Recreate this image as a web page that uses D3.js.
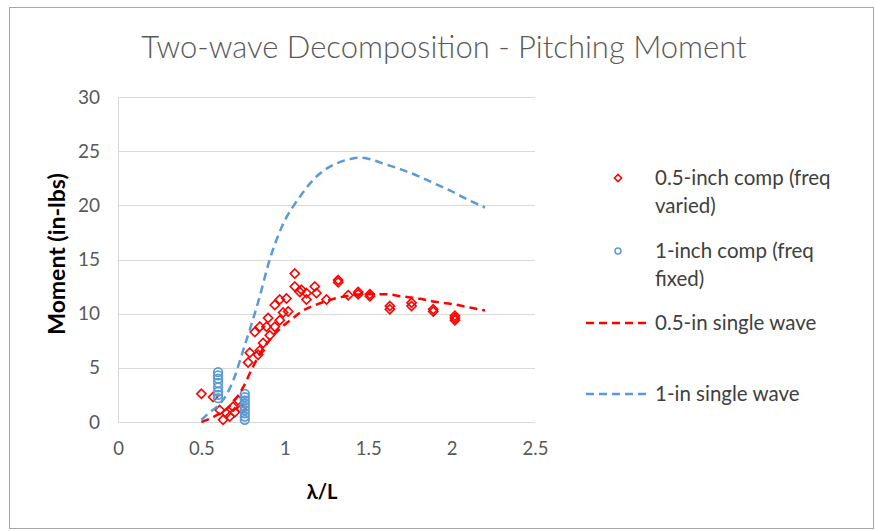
<!DOCTYPE html>
<html>
<head>
<meta charset="utf-8">
<script src="https://cdn.jsdelivr.net/npm/d3@7"></script>
<style>
  html, body { margin: 0; padding: 0; background: #fff; }
  svg { display: block; font-family: Lato, "Open Sans", sans-serif; }
</style>
</head>
<body>
<svg id="chart" width="875" height="531"></svg>
<script>
// ---------- data ----------
const titleText = "Two-wave Decomposition - Pitching Moment";
const xTicks = [0, 0.5, 1, 1.5, 2, 2.5];
const xTickLabels = ["0", "0.5", "1", "1.5", "2", "2.5"];
const yTicks = [0, 5, 10, 15, 20, 25, 30];

// 0.5-inch comp (freq varied) – red diamonds
const halfCompX = [0.50, 0.57, 0.61, 0.63, 0.65, 0.67, 0.69, 0.70, 0.72, 0.74,
  0.78, 0.79, 0.82, 0.84, 0.85, 0.85, 0.87, 0.89, 0.90, 0.91, 0.94, 0.94, 0.97, 0.97,
  0.99, 1.01, 1.02, 1.06, 1.06, 1.09, 1.10, 1.13, 1.13, 1.18, 1.19, 1.25, 1.32, 1.32,
  1.38, 1.44, 1.44, 1.51, 1.51, 1.63, 1.63, 1.76, 1.76, 1.89, 1.89, 2.02, 2.02, 2.02];
const halfCompY = [2.6, 2.3, 1.1, 0.2, 0.8, 0.5, 1.4, 0.9, 2.0, 1.2,
  5.5, 6.4, 8.3, 6.2, 6.6, 8.8, 7.3, 8.8, 9.6, 8.0, 8.8, 10.8, 9.4, 11.3,
  10.1, 11.4, 10.2, 13.7, 12.5, 12.0, 12.2, 11.9, 11.3, 12.5, 11.9, 11.3, 12.9, 13.1,
  11.7, 12.0, 11.8, 11.6, 11.8, 10.4, 10.7, 10.7, 11.0, 10.2, 10.4, 9.6, 9.4, 9.8];

// 1-inch comp (freq fixed) – blue circles
const oneCompX = [0.60, 0.60, 0.60, 0.60, 0.60, 0.60, 0.60, 0.60,
  0.76, 0.76, 0.76, 0.76, 0.76, 0.76, 0.76, 0.76, 0.76];
const oneCompY = [4.6, 4.3, 4.0, 3.6, 3.2, 2.8, 2.5, 2.2,
  2.6, 2.3, 2.0, 1.7, 1.4, 1.1, 0.8, 0.5, 0.2];

// 0.5-in single wave – red dashed
const halfWaveX = [0.50, 0.55, 0.60, 0.65, 0.70, 0.75, 0.80, 0.85, 0.90, 0.95, 1.00, 1.05,
  1.10, 1.20, 1.30, 1.40, 1.50, 1.60, 1.70, 1.80, 1.90, 2.00, 2.10, 2.20];
const halfWaveY = [0.0, 0.3, 0.7, 1.2, 2.0, 3.2, 4.8, 6.3, 7.4, 8.3, 9.0, 9.6,
  10.2, 10.9, 11.4, 11.7, 11.8, 11.8, 11.6, 11.4, 11.1, 10.9, 10.6, 10.3];

// 1-in single wave – blue dashed
const oneWaveX = [0.50, 0.55, 0.60, 0.65, 0.70, 0.75, 0.80, 0.85, 0.90, 0.95, 1.00, 1.05,
  1.10, 1.15, 1.20, 1.30, 1.40, 1.45, 1.50, 1.60, 1.70, 1.80, 1.90, 2.00, 2.10, 2.20];
const oneWaveY = [0.2, 0.9, 1.5, 2.5, 4.2, 6.6, 9.0, 11.6, 14.5, 16.8, 18.6, 19.9,
  21.0, 22.0, 22.8, 23.8, 24.3, 24.4, 24.3, 23.8, 23.3, 22.7, 22.0, 21.3, 20.5, 19.8];

const legendLabels = [["0.5-inch comp (freq", "varied)"], ["1-inch comp (freq", "fixed)"],
  ["0.5-in single wave"], ["1-in single wave"]];

// ---------- drawing ----------
const RED = "#ff0000", BLUE = "#5b9bd5";
const svg = d3.select("#chart");

// outer frame
svg.append("rect").attr("x", 9.5).attr("y", 7.5).attr("width", 864).attr("height", 521)
  .attr("fill", "#fff").attr("stroke", "#a6a6a6").attr("stroke-width", 1);

const x = d3.scaleLinear().domain([0, 2.5]).range([118, 535]);
const y = d3.scaleLinear().domain([0, 30]).range([422, 97]);

// gridlines
svg.append("g").selectAll("line").data(yTicks).join("line")
  .attr("x1", x(0)).attr("x2", x(2.5))
  .attr("y1", d => Math.round(y(d)) + 0.5).attr("y2", d => Math.round(y(d)) + 0.5)
  .attr("stroke", "#d9d9d9").attr("stroke-width", 1);
// left vertical axis line
svg.append("line").attr("x1", x(0) + 0.5).attr("x2", x(0) + 0.5)
  .attr("y1", y(30)).attr("y2", y(0)).attr("stroke", "#d9d9d9");

// axes (labels only)
const yAxis = d3.axisLeft(y).tickValues(yTicks).tickSize(0).tickPadding(18);
const gy = svg.append("g").attr("transform", `translate(${x(0)},0)`).call(yAxis);
gy.select(".domain").remove();
gy.selectAll("text").attr("fill", "#595959").style("font-size", "19px").style("font-family", "Lato, sans-serif");

const xAxis = d3.axisBottom(x).tickValues(xTicks).tickSize(0).tickPadding(20)
  .tickFormat((d, i) => xTickLabels[i]);
const gx = svg.append("g").attr("transform", `translate(0,${y(0)})`).call(xAxis);
gx.select(".domain").remove();
gx.selectAll("text").attr("fill", "#595959").style("font-size", "18.5px").style("font-family", "Lato, sans-serif");

// title
svg.append("text").attr("x", 444).attr("y", 58).attr("text-anchor", "middle")
  .attr("fill", "#595959").style("font-size", "31px").style("font-weight", 300)
  .text(titleText);

// axis titles
svg.append("text").attr("transform", "translate(65,254) rotate(-90)")
  .attr("text-anchor", "middle").style("font-size", "23px").style("font-weight", 700)
  .attr("fill", "#000").text("Moment (in-lbs)");
svg.append("text").attr("x", 322).attr("y", 499).attr("text-anchor", "middle")
  .style("font-size", "20px").style("font-weight", 700).attr("fill", "#000").text("λ/L");

// scatter: red diamonds
const diamond = s => `M0,${-s}L${s},0L0,${s}L${-s},0Z`;
svg.append("g").selectAll("path").data(halfCompX.map((v, i) => [v, halfCompY[i]])).join("path")
  .attr("transform", d => `translate(${x(d[0])},${y(d[1])})`)
  .attr("d", diamond(4.6)).attr("fill", "none").attr("stroke", RED).attr("stroke-width", 1.6);

// scatter: blue circles
svg.append("g").selectAll("circle").data(oneCompX.map((v, i) => [v, oneCompY[i]])).join("circle")
  .attr("cx", d => x(d[0])).attr("cy", d => y(d[1])).attr("r", 4.3)
  .attr("fill", "none").attr("stroke", BLUE).attr("stroke-width", 1.7);

// lines
const line = d3.line().x(d => x(d[0])).y(d => y(d[1])).curve(d3.curveMonotoneX);
svg.append("path").datum(halfWaveX.map((v, i) => [v, halfWaveY[i]]))
  .attr("d", line).attr("fill", "none").attr("stroke", RED).attr("stroke-width", 2.5)
  .attr("stroke-dasharray", "8,5");
svg.append("path").datum(oneWaveX.map((v, i) => [v, oneWaveY[i]]))
  .attr("d", line).attr("fill", "none").attr("stroke", BLUE).attr("stroke-width", 2.5)
  .attr("stroke-dasharray", "8,5");

// legend
const lg = svg.append("g").style("font-size", "20.5px").attr("fill", "#404040");
const rowsY = [178, 251, 323, 394];
lg.append("path").attr("transform", `translate(618,${rowsY[0]})`).attr("d", diamond(3.6))
  .attr("fill", "none").attr("stroke", RED).attr("stroke-width", 1.5);
lg.append("circle").attr("cx", 618).attr("cy", rowsY[1]).attr("r", 3)
  .attr("fill", "none").attr("stroke", BLUE).attr("stroke-width", 1.5);
lg.append("line").attr("x1", 586).attr("x2", 648).attr("y1", rowsY[2]).attr("y2", rowsY[2])
  .attr("stroke", RED).attr("stroke-width", 2.5).attr("stroke-dasharray", "8,5");
lg.append("line").attr("x1", 586).attr("x2", 648).attr("y1", rowsY[3]).attr("y2", rowsY[3])
  .attr("stroke", BLUE).attr("stroke-width", 2.5).attr("stroke-dasharray", "8,5");
legendLabels.forEach((lines, i) => {
  lines.forEach((t, j) => {
    lg.append("text").attr("x", 655).attr("y", rowsY[i] + 7 + j * 28).text(t);
  });
});
</script>
</body>
</html>
